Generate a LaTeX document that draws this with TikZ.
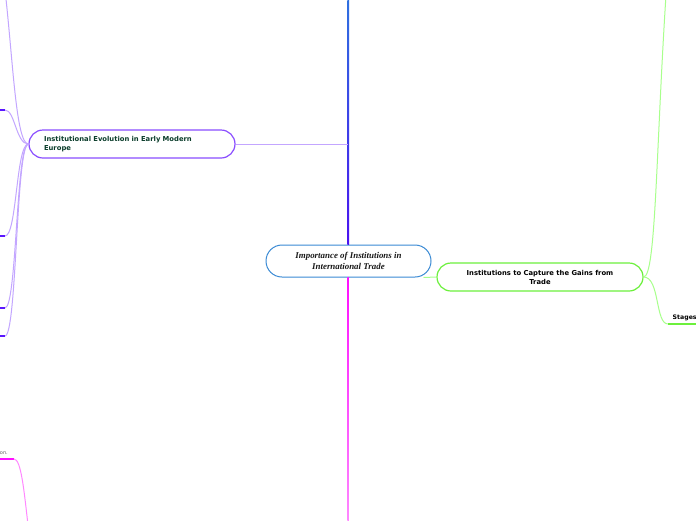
\documentclass[tikz,border=0pt]{standalone}
\usepackage{fontspec}
\setmainfont{Liberation Serif}
\newfontfamily\boxfont{DejaVu Sans}
\usetikzlibrary{calc}
\definecolor{cblue}{HTML}{3A8AD4}
\definecolor{cpurple}{HTML}{8A4DFF}
\definecolor{cpurplelight}{HTML}{C3A6FF}
\definecolor{cpurpledark}{HTML}{5A16FF}
\definecolor{cgreen}{HTML}{6CF03C}
\definecolor{cgreenlight}{HTML}{A8FF8C}
\definecolor{cmag}{HTML}{FF10FF}
\definecolor{cmaglight}{HTML}{FF88FF}
\definecolor{ctext}{HTML}{0B3D2B}
\definecolor{spinetop}{HTML}{2F70E0}
\definecolor{spinebot}{HTML}{4A12F0}
\tikzset{
  x=1pt, y=-1pt,
  centralbox/.style={draw=cblue, line width=1pt, fill=white, rounded corners=16pt,
    minimum width=165pt, minimum height=32pt, align=center, inner sep=0pt,
    font=\fontsize{8.9}{10.5}\selectfont\bfseries\itshape, text=black!90},
  topicbox/.style={line width=1.2pt, fill=white, rounded corners=14pt,
    minimum width=206pt, minimum height=28pt, inner sep=0pt,
    font=\boxfont\fontsize{6.8}{9}\selectfont\bfseries},
  purplelink/.style={draw=cpurplelight, line width=1pt},
  purplestub/.style={draw=cpurpledark, line width=1.5pt},
  greenlink/.style={draw=cgreenlight, line width=1pt},
  greenstub/.style={draw=cgreen, line width=2pt},
}
\begin{document}
\begin{tikzpicture}
\useasboundingbox (0,0) rectangle (696,520);
\clip (0,0) rectangle (696,520);
\fill[white] (0,0) rectangle (696,520);

% central node
\node[centralbox] (c) at (348.5,261) {Importance of Institutions in\\International Trade};

% coordinates for free ends
\coordinate (topend) at (348,0);
\coordinate (botend) at (348,520);

% main vertical spines
\shade[top color=spinetop, bottom color=spinebot]
  ($(c.north)+(-1.2,0)$) rectangle ($(topend)+(1.2,0)$);
\shade[top color=cmag, bottom color=cmaglight]
  ($(c.south)+(-1.2,0)$) rectangle ($(botend)+(0.9,0)$);

% purple topic
\node[topicbox, draw=cpurple, text=ctext, align=left, text width=176pt] (p) at (132,144)
  {Institutional Evolution in Early Modern\\Europe};
\coordinate (pj) at (348,144);
\draw[purplelink] (pj) -- (p.east);

% purple children
\coordinate (pu) at (5,-10);
\coordinate (p1) at (5,110);
\coordinate (p2) at (5,236);
\coordinate (p3) at (5,308);
\coordinate (p4) at (5,336);
\draw[purplelink] (p.west) .. controls (16,144) and (13,60) .. (pu);
\draw[purplelink] (p.west) .. controls (16,144) and (15,110) .. (p1);
\draw[purplelink] (p.west) .. controls (16,144) and (17,236) .. (p2);
\draw[purplelink] (p.west) .. controls (16,144) and (17,308) .. (p3);
\draw[purplelink] (p.west) .. controls (16,144) and (17,336) .. (p4);
\foreach \q in {p1,p2,p3,p4} { \draw[purplestub] (\q) -- ++(-8,0); }

% green topic
\node[topicbox, draw=cgreen, text=black, align=center] (g) at (540,277)
  {Institutions to Capture the Gains from\\Trade};
\draw[greenlink] ($(c.south east)+(-8,0)$) -- (g.west);
\coordinate (gu) at (666,-5);
\draw[greenlink] (g.east) .. controls (656,277) and (656,150) .. (gu);
\node[anchor=south west, inner sep=0pt, font=\boxfont\fontsize{6.2}{8}\selectfont\bfseries] (st) at (672.5,321) {Stages};
\coordinate (s0) at (668,324);
\draw[greenlink] (g.east) .. controls (660,277) and (655,324) .. (s0);
\draw[greenstub] (s0) -- (700,324);

% magenta child (bottom left)
\node[anchor=south east, inner sep=0pt, text=black!60, font=\boxfont\fontsize{5}{6}\selectfont] (on) at (8,455) {on.};
\coordinate (m0) at (14,459);
\coordinate (m1) at (28,525);
\draw[purplestub, draw=cmag] (m0) -- (-2,459);
\draw[line width=1pt, draw=cmaglight] (m0) .. controls (21,459) and (24,490) .. (m1);
\end{tikzpicture}
\end{document}
